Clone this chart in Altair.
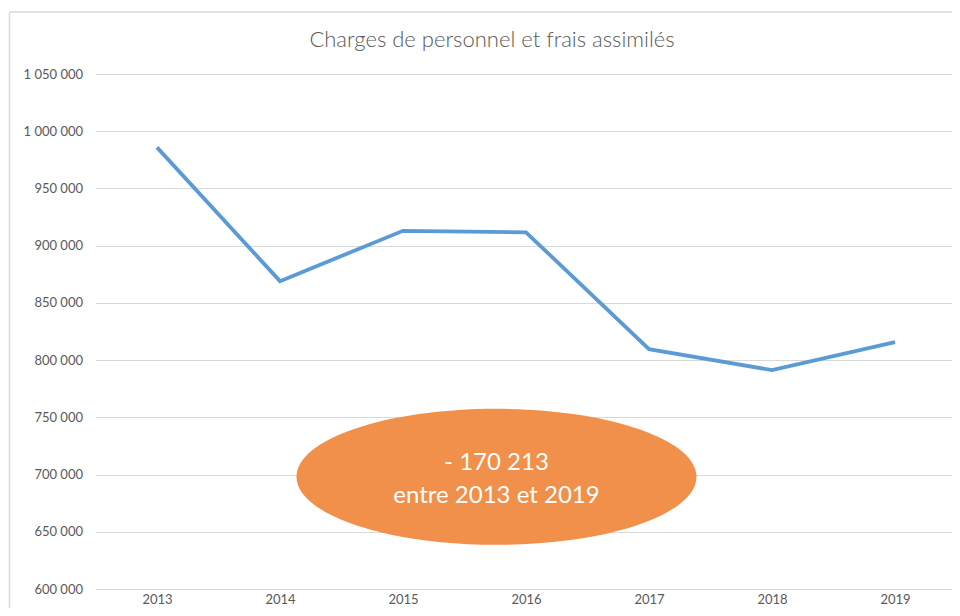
import altair as alt
import pandas as pd

# ---- data ----
years = [2013, 2014, 2015, 2016, 2017, 2018, 2019]
charges = [985900, 869000, 913000, 911700, 809600, 791300, 815687]
y_ticks = [600000, 650000, 700000, 750000, 800000, 850000, 900000, 950000, 1000000, 1050000]
title_text = "Charges de personnel et frais assimilés"
bubble_x = [2015.76]
bubble_y = [698000]
bubble_line2 = "entre 2013 et 2019"

diff = charges[0] - charges[-1]
bubble_text = ("- " + f"{diff:,}".replace(",", " ")) + "\n" + bubble_line2

PAD_L, PAD_T = 87.5, 66
W, H = 856.5, 515
FONT = "Lato"
GRAY = "#595959"

df = pd.DataFrame({"annee": years, "charges": charges})
bubble_df = pd.DataFrame({"x": bubble_x, "y": bubble_y, "label": [bubble_text]})
title_df = pd.DataFrame({"t": [title_text]})

x_scale = alt.Scale(domain=[2012.5, 2012.5 + 7 * W / 861.0], nice=False, zero=False)
y_scale = alt.Scale(domain=[600000, 1050000], nice=False, zero=False)

y_label_expr = "replace(replace(format(datum.value, ','), ',', ' '), ',', ' ')"

line = alt.Chart(df).mark_line(color="#5B9BD5", strokeWidth=3.8).encode(
    x=alt.X("annee:Q", scale=x_scale,
            axis=alt.Axis(values=years, format="d", title=None, grid=False, domain=False,
                          ticks=False, labelPadding=4, labelFontSize=13, labelColor=GRAY,
                          labelFont=FONT)),
    y=alt.Y("charges:Q", scale=y_scale,
            axis=alt.Axis(values=y_ticks, labelExpr=y_label_expr, title=None, grid=True,
                          gridColor="#D9D9D9", gridWidth=1.2, domain=False, ticks=False,
                          labelPadding=13, labelFontSize=13, labelColor=GRAY, labelFont=FONT)),
)

ellipse = alt.Chart(bubble_df).mark_point(
    shape="M -1 0 A 1 0.34 0 1 0 1 0 A 1 0.34 0 1 0 -1 0 Z",
    size=400 * 400, filled=True, fill="#F0904A", opacity=1, strokeWidth=0,
).encode(x=alt.X("x:Q", scale=x_scale), y=alt.Y("y:Q", scale=y_scale))

text = alt.Chart(bubble_df).mark_text(
    color="white", fontSize=24, font=FONT, lineBreak="\n", lineHeight=33,
    align="center", baseline="middle", dy=-14,
).encode(x=alt.X("x:Q", scale=x_scale), y=alt.Y("y:Q", scale=y_scale), text="label:N")

title = alt.Chart(title_df).mark_text(
    color=GRAY, fontSize=22, font=FONT, fontWeight=300, align="center", baseline="middle",
).encode(x=alt.value(492 - 8 - PAD_L), y=alt.value(40 - 8 - PAD_T), text="t:N")

border_left = alt.Chart(title_df).mark_rule(color="#D9D9D9", strokeWidth=1.5).encode(
    x=alt.value(9.5 - 8 - PAD_L), y=alt.value(12 - 8 - PAD_T), y2=alt.value(H + 40))
border_top = alt.Chart(title_df).mark_rule(color="#D9D9D9", strokeWidth=1.5).encode(
    x=alt.value(9.5 - 8 - PAD_L), x2=alt.value(W + 10), y=alt.value(12 - 8 - PAD_T))

chart = alt.layer(border_left, border_top, line, ellipse, text, title).properties(
    width=W, height=H,
    autosize=alt.AutoSizeParams(type="none"),
    padding={"left": PAD_L, "top": PAD_T, "right": 0, "bottom": 19},
).configure(background="white").configure_view(stroke=None)

chart.save("out.html", embed_options={"renderer": "svg", "actions": False})
